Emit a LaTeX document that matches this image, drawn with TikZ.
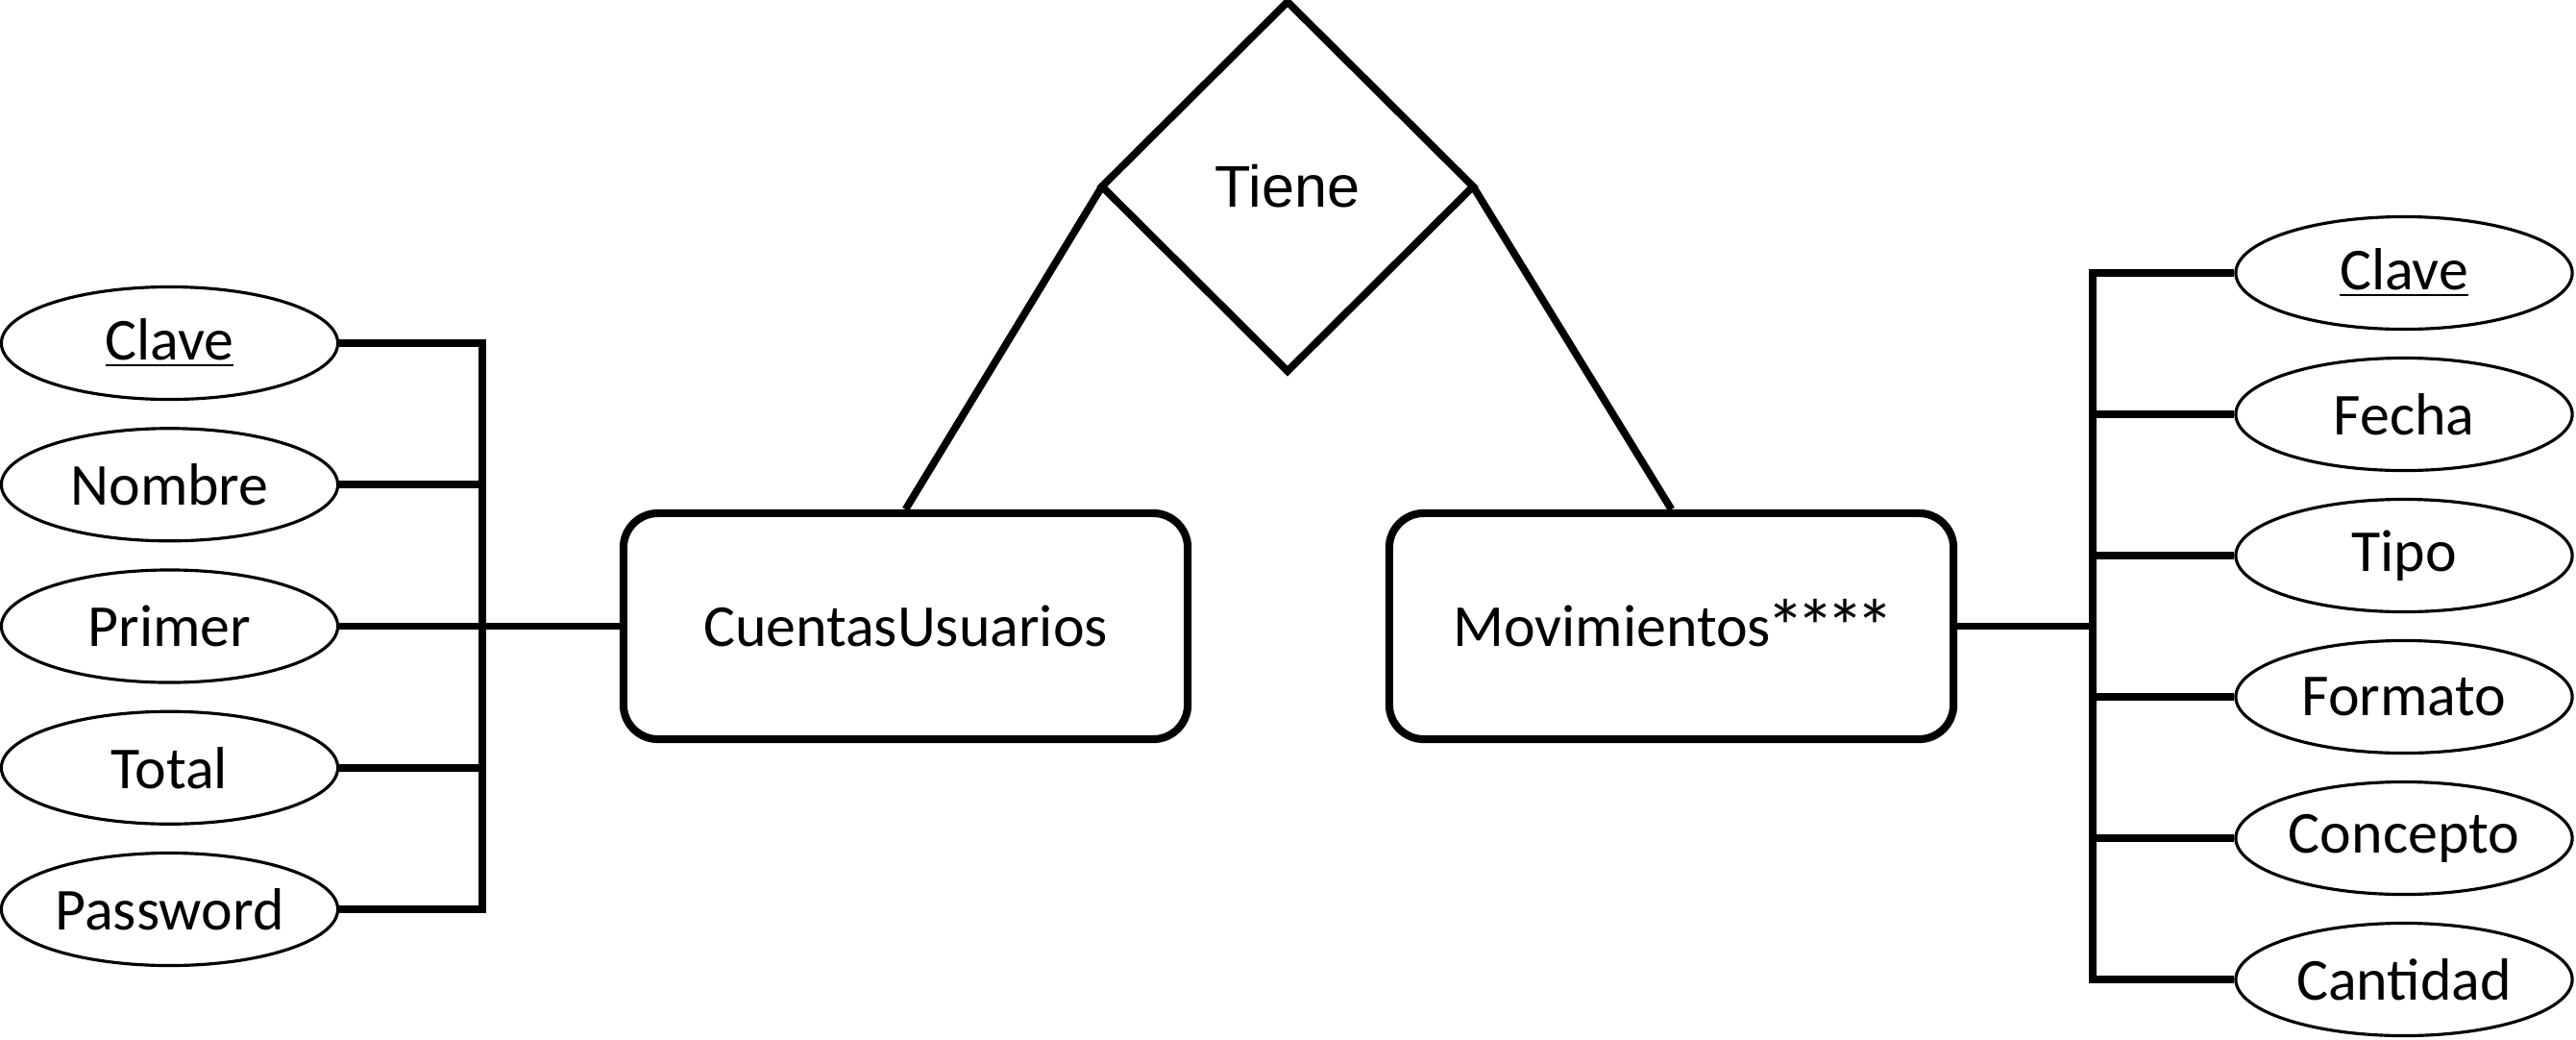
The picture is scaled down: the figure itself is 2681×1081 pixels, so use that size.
\documentclass[tikz,border=0pt]{standalone}
\usepackage{fontspec}
\usepackage{graphicx}
\setmainfont{Carlito}
\newfontfamily\arialfont{Liberation Sans}
\usetikzlibrary{shapes.geometric}
\newcommand\myast{\makebox[0.5em]{\raisebox{-0.13em}{\scalebox{1.3}{*}}}}
\begin{document}
\begin{tikzpicture}[x=0.01cm,y=-0.01cm,
  attr/.style={ellipse, draw, line width=0.9pt, minimum width=3.5cm, minimum height=1.17cm, inner sep=0pt, font=\fontsize{17.6}{21}\selectfont},
  ent/.style={draw, rounded corners=0.36cm, line width=2.3pt, minimum width=5.87cm, minimum height=2.35cm, inner sep=0pt, font=\fontsize{17.6}{21}\selectfont},
  rel/.style={diamond, draw, line width=2.2pt, minimum width=3.86cm, minimum height=3.84cm, inner sep=0pt, outer sep=0pt, font=\arialfont\fontsize{17.4}{21}\selectfont},
  link/.style={line width=2.2pt}]
\useasboundingbox (0,0) rectangle (2681,1081);

% relationship
\node[rel] (tiene) at (1340,194) {Tiene};

% entities
\node[ent] (cu) at (942.5,651.5) {CuentasUsuarios};
\node[ent] (mov) at (1739.5,651.5) {Movimientos\myast\myast\myast\myast};

% left attributes
\node[attr] (a1) at (176.5,357) {\underline{Clave}};
\node[attr] (a2) at (176.5,504.25) {Nombre};
\node[attr] (a3) at (176.5,651.5) {Primer};
\node[attr] (a4) at (176.5,798.75) {Total};
\node[attr] (a5) at (176.5,946) {Password};

% right attributes
\node[attr] (b1) at (2502,284) {\underline{Clave}};
\node[attr] (b2) at (2502,431) {Fecha};
\node[attr] (b3) at (2502,578) {Tipo};
\node[attr] (b4) at (2502,725) {Formato};
\node[attr] (b5) at (2502,872) {Concepto};
\node[attr] (b6) at (2502,1019) {Cantidad};

% bus coordinates
\coordinate (bl) at (502,651.5);
\coordinate (br) at (2178,651.5);

% relationship links
\draw[link] (tiene.west) -- (cu.north);
\draw[link] (tiene.east) -- (mov.north);

% left bus
\draw[link] (a1.east) -- (a1.east -| bl) -- (a5.east -| bl) -- (a5.east);
\draw[link] (a2.east) -- (a2.east -| bl);
\draw[link] (a3.east) -- (cu.west);
\draw[link] (a4.east) -- (a4.east -| bl);

% right bus
\draw[link] (b1.west) -- (b1.west -| br) -- (b6.west -| br) -- (b6.west);
\draw[link] (b2.west) -- (b2.west -| br);
\draw[link] (b3.west) -- (b3.west -| br);
\draw[link] (b4.west) -- (b4.west -| br);
\draw[link] (b5.west) -- (b5.west -| br);
\draw[link] (mov.east) -- (br);
\end{tikzpicture}
\end{document}
